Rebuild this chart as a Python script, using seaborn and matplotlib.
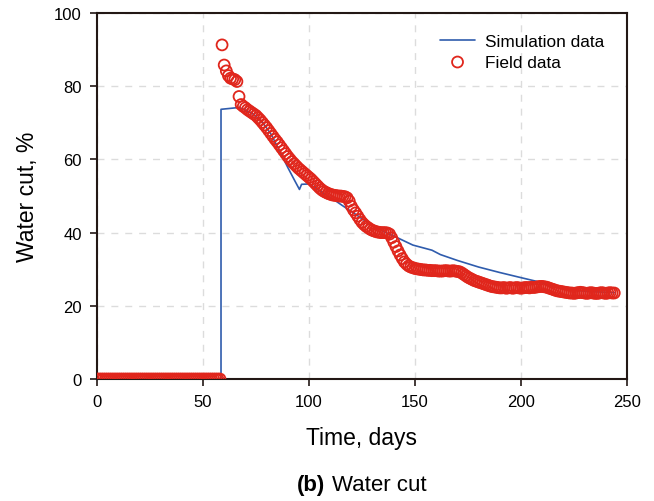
import matplotlib
matplotlib.use("Agg")
import matplotlib.pyplot as plt
import numpy as np
import pandas as pd
import seaborn as sns

# Simulation data (time in days, water cut in %)
sim_days = [0, 58.5, 58.5, 62, 67, 70, 74, 78, 82, 86, 90, 93, 95.5, 96.5, 100,
            103, 107, 112, 116, 121, 126, 131, 136, 141, 149, 158, 162, 170,
            180, 190, 200, 208, 215, 222, 232, 244]
sim_wc = [0, 0, 73.7, 73.9, 74.2, 73.5, 72.3, 70.2, 67.0, 62.5, 57.8, 54.5, 51.8,
          53.2, 53.3, 52.3, 50.7, 48.9, 47.3, 45.4, 43.4, 41.6, 40.1, 38.8, 36.6,
          35.2, 34.0, 32.4, 30.6, 29.1, 27.7, 26.6, 25.3, 24.4, 23.9, 23.6]

# Field data: one measurement per day, days 0..244
field_days = list(range(0, 245))
field_wc = [0.0] * 59 + [
    91.3, 85.8, 84.2, 82.9, 82.2, 82.0, 81.8, 81.3, 77.2, 75.0,
    74.5, 74.1, 73.6, 73.2, 72.8, 72.4, 72.0, 71.4, 70.8, 70.1,
    69.4, 68.7, 67.9, 67.1, 66.3, 65.5, 64.8, 64.0, 63.2, 62.4,
    61.6, 60.8, 60.1, 59.4, 58.8, 58.2, 57.6, 57.1, 56.6, 56.1,
    55.6, 55.1, 54.6, 54.0, 53.4, 52.8, 52.2, 51.7, 51.3, 51.0,
    50.7, 50.5, 50.3, 50.2, 50.1, 50.0, 50.0, 49.9, 49.8, 49.5,
    48.6, 47.2, 46.2, 45.4, 44.5, 43.6, 42.8, 42.2, 41.7, 41.3,
    40.9, 40.6, 40.4, 40.2, 40.1, 40.0, 40.0, 40.0, 39.9, 39.6,
    38.6, 37.4, 36.2, 35.0, 33.9, 32.9, 32.0, 31.4, 30.9, 30.6,
    30.4, 30.2, 30.1,
    30.0, 29.9, 29.8, 29.8, 29.7, 29.7, 29.6, 29.6, 29.6, 29.5,
    29.5, 29.5, 29.6, 29.6, 29.5, 29.5, 29.6, 29.5, 29.4,
    29.3, 29.0, 28.6, 28.2, 27.8, 27.5, 27.2, 26.9, 26.7, 26.5,
    26.3, 26.1, 25.9, 25.7, 25.5, 25.3, 25.2, 25.1, 25.0,
    24.9, 24.9, 25.0, 24.8, 24.9, 25.0, 24.8, 24.9, 25.0, 24.9,
    24.8, 24.9, 25.0, 25.0, 24.9, 25.1, 25.0, 25.1, 25.2, 25.3,
    25.3, 25.2,
    25.1, 24.9, 24.7, 24.5, 24.3, 24.1, 24.0, 23.9, 23.8, 23.7,
    23.6, 23.5, 23.5, 23.4, 23.5, 23.6, 23.7, 23.6, 23.5, 23.4,
    23.5, 23.6, 23.5, 23.4, 23.4, 23.5, 23.6, 23.5, 23.4, 23.5,
    23.6, 23.5, 23.5]

sim_df = pd.DataFrame({"Time": sim_days, "WC": sim_wc})
field_df = pd.DataFrame({"Time": field_days, "WC": field_wc})

sns.set_style("white")
plt.rcParams["font.family"] = ["Liberation Sans", "DejaVu Sans"]
plt.rcParams["text.color"] = "black"
plt.rcParams["axes.labelcolor"] = "black"
plt.rcParams["xtick.color"] = "black"
plt.rcParams["ytick.color"] = "black"

fig = plt.figure(figsize=(6.54, 5.02), dpi=100)
ax = fig.add_axes([0.1483, 0.243, 0.8104, 0.729])

blue = "#2f5cad"
red = "#e0261c"

sns.lineplot(data=sim_df, x="Time", y="WC", ax=ax, color=blue, linewidth=1.2,
             sort=False, estimator=None, label="Simulation data", zorder=2)
sns.scatterplot(data=field_df, x="Time", y="WC", ax=ax, marker="o", s=62,
                facecolors="none", edgecolor=red, linewidth=1.3,
                label="Field data", zorder=3)

ax.set_xlim(0, 250)
ax.set_ylim(0, 100)
ax.set_xticks([0, 50, 100, 150, 200, 250])
ax.set_yticks([0, 20, 40, 60, 80, 100])
ax.grid(True, linestyle=(0, (5, 5)), color="#dcdcdc", linewidth=1.0)
ax.set_axisbelow(True)

for sp in ax.spines.values():
    sp.set_color("#231815")
    sp.set_linewidth(1.5)
ax.tick_params(axis="both", direction="out", length=5, width=1.2,
               color="#231815", labelsize=12, pad=6, bottom=True, left=True)

ax.set_xlabel("Time, days", fontsize=16.5, labelpad=12)
ax.set_ylabel("Water cut, %", fontsize=16.5, labelpad=11)

ax.legend(loc="upper right", frameon=False, fontsize=12.4,
          bbox_to_anchor=(0.98, 0.975), handlelength=2.0,
          borderaxespad=0.3, labelspacing=0.3, handletextpad=0.6)

fig.text(0.497, 0.022, "(b)", ha="right", fontsize=16, fontweight="bold")
fig.text(0.507, 0.022, "Water cut", ha="left", fontsize=16)

fig.savefig("out.png", dpi=100)
